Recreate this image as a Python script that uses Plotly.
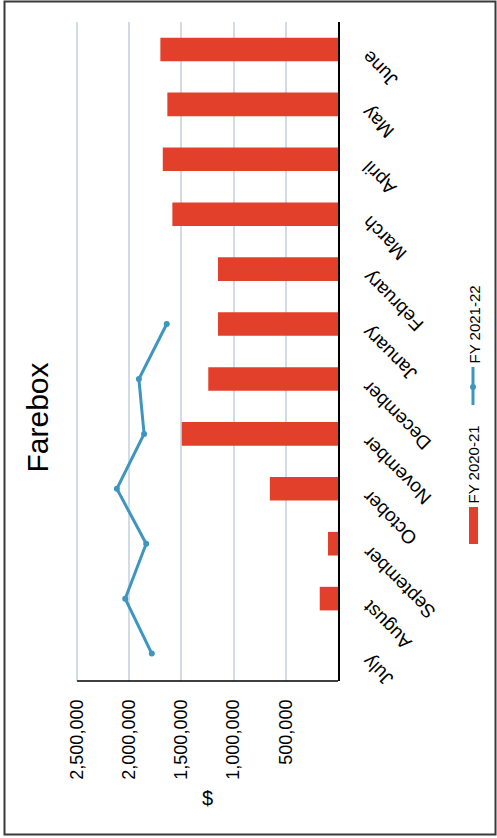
import plotly.graph_objects as go

months = ["July", "August", "September", "October", "November", "December",
          "January", "February", "March", "April", "May", "June"]
fy2021 = [None, 175000, 96000, 653000, 1497000, 1243000,
          1150000, 1150000, 1587000, 1679000, 1635000, 1702000]
fy2122 = [1784000, 2039000, 1838000, 2119000, 1858000, 1908000,
          1641000, None, None, None, None, None]
value_ticks = [500000, 1000000, 1500000, 2000000, 2500000]
series_names = ["FY 2020-21", "FY 2021-22"]

W, H = 497, 838
L, R, T, B = 75, 159, 22, 157
PW, PH = W - L - R, H - T - B

def px(x):
    return (x - L) / PW

def py(y):
    return (H - B - y) / PH

FONT = "Liberation Sans, Arial, sans-serif"
RED = "#E2402A"
BLUE = "#3E96C0"

fig = go.Figure()
fig.add_trace(go.Bar(
    x=fy2021, y=months, orientation="h", name=series_names[0],
    marker=dict(color=RED, line=dict(width=0)), width=0.43,
))
fig.add_trace(go.Scatter(
    x=fy2122, y=months, mode="lines+markers", name=series_names[1],
    line=dict(color=BLUE, width=3), marker=dict(color=BLUE, size=6),
))

fig.update_layout(
    width=W, height=H,
    margin=dict(l=L, r=R, t=T, b=B, pad=0),
    paper_bgcolor="white", plot_bgcolor="white",
    showlegend=False,
    font=dict(family=FONT, color="black"),
    xaxis=dict(
        range=[2520000, 0], tickvals=value_ticks, tickformat=",",
        tickangle=-90, tickfont=dict(size=18, family=FONT),
        showgrid=True, gridcolor="#D3DBE6", gridwidth=1.5,
        showline=False,
        zeroline=False, ticks="", ticklabelstandoff=14,
    ),
    yaxis=dict(
        side="right", categoryorder="array", categoryarray=months,
        range=[-0.5, 11.5], showticklabels=False,
        showgrid=False, showline=True, linecolor="black", linewidth=1.5,
        zeroline=False, ticks="",
    ),
)

# bottom axis line from the 2,500,000 gridline to the value axis origin
fig.add_shape(type="line", xref="x", yref="paper",
              x0=value_ticks[-1], x1=0, y0=0, y1=0,
              line=dict(color="black", width=1.5))

# category labels (rotated, as in the reference)
for m in months:
    fig.add_annotation(text=m, xref="paper", yref="y", x=px(357), y=m,
                       xanchor="left", yanchor="top", yshift=4, textangle=-135,
                       showarrow=False, borderpad=0,
                       font=dict(size=19, family=FONT))

# outer chart border
fig.add_shape(type="rect", xref="paper", yref="paper",
              x0=px(4.5), x1=px(495.5), y0=py(1.5), y1=py(834.5),
              line=dict(color="#3a3a3a", width=2), layer="below")

# title
fig.add_annotation(text="Farebox", xref="paper", yref="paper",
                   x=px(37), y=py(417.5), textangle=-90, showarrow=False,
                   font=dict(size=30, family=FONT), xanchor="center", yanchor="middle")
# axis title
fig.add_annotation(text="$", xref="paper", yref="paper",
                   x=px(207), y=py(798), showarrow=False,
                   font=dict(size=20, family=FONT), xanchor="center", yanchor="middle")

# legend (rotated)
fig.add_shape(type="rect", xref="paper", yref="paper",
              x0=px(469), x1=px(478), y0=py(507), y1=py(544),
              fillcolor=RED, line=dict(width=0))
fig.add_annotation(text=series_names[0], xref="paper", yref="paper",
                   x=px(473.5), y=py(465), textangle=-90, showarrow=False,
                   font=dict(size=15, family=FONT), xanchor="center", yanchor="middle")
fig.add_shape(type="line", xref="paper", yref="paper",
              x0=px(473), x1=px(473), y0=py(367), y1=py(405),
              line=dict(color=BLUE, width=3))
fig.add_shape(type="circle", xref="paper", yref="paper",
              x0=px(470), x1=px(476), y0=py(384), y1=py(390),
              fillcolor=BLUE, line=dict(width=0))
fig.add_annotation(text=series_names[1], xref="paper", yref="paper",
                   x=px(473.5), y=py(325), textangle=-90, showarrow=False,
                   font=dict(size=15, family=FONT), xanchor="center", yanchor="middle")

fig.write_html("out.html")
